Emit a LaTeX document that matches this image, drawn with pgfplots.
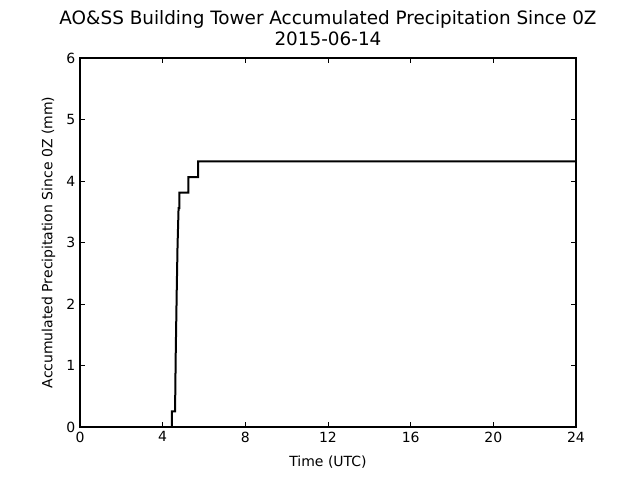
\documentclass[border=0pt]{standalone}
\usepackage{fontspec}
\setmainfont{DejaVu Sans}
\usepackage{pgfplots}
\pgfplotsset{compat=1.18}
\begin{document}
\begin{tikzpicture}
\useasboundingbox (-60pt,-39.75pt) rectangle (420pt,320.25pt);
\begin{axis}[
  scale only axis,
  width=372pt, height=276.75pt,
  xmin=0, xmax=24, ymin=0, ymax=6,
  xtick={0,4,8,12,16,20,24},
  ytick={0,1,2,3,4,5,6},
  tick align=inside,
  xtick pos=both, ytick pos=both,
  major tick length=3.5pt,
  tick style={black, line width=0.6pt},
  axis line style={line width=0.8pt},
  /pgf/number format/assume math mode=true,
  ticklabel style={font=\fontsize{10.5}{12}\selectfont},
  xlabel={Time (UTC)},
  ylabel={Accumulated Precipitation Since 0Z (mm)},
  label style={font=\fontsize{10.5}{12}\selectfont},
  xlabel style={at={(0.5,0)}, anchor=north, yshift=-18pt},
  ylabel style={at={(0,0.5)}, anchor=south, yshift=15pt},
  title={AO\&SS Building Tower Accumulated Precipitation Since 0Z\\2015-06-14},
  title style={font=\fontsize{13.8}{15.5}\selectfont, align=center, at={(0.5,1)}, anchor=south, yshift=0pt},
]
\addplot[black, line width=1.5pt, line join=miter] coordinates {
(0,0) (4.45,0) (4.45,0.254) (4.6,0.254) (4.63,1.14) (4.68,2.2) (4.72,2.95) (4.77,3.56) (4.81,3.56) (4.81,3.81) (5.24,3.81) (5.24,4.064) (5.72,4.064) (5.72,4.318) (24,4.318)
};
\end{axis}
\end{tikzpicture}
\end{document}
